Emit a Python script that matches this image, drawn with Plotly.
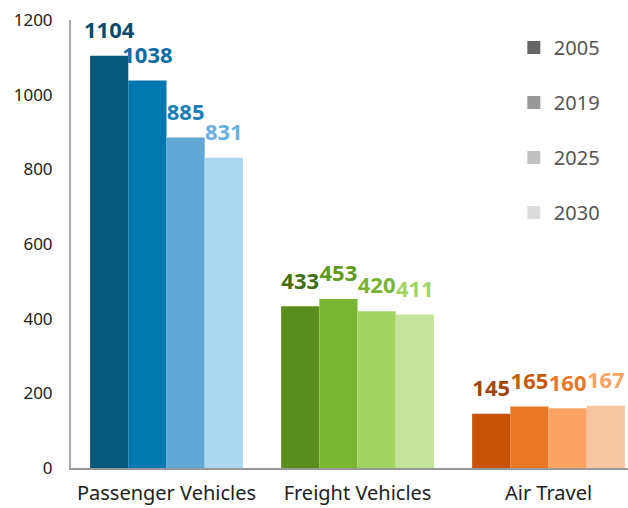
import plotly.graph_objects as go

categories = ["Passenger Vehicles", "Freight Vehicles", "Air Travel"]
years = ["2005", "2019", "2025", "2030"]
values = {
    "2005": [1104, 433, 145],
    "2019": [1038, 453, 165],
    "2025": [885, 420, 160],
    "2030": [831, 411, 167],
}
bar_colors = {
    "2005": ["#08587c", "#5a8e1c", "#c65306"],
    "2019": ["#0077ae", "#79b432", "#e87828"],
    "2025": ["#62a8d6", "#a2d462", "#fca464"],
    "2030": ["#acd7ef", "#c4e39b", "#f7c6a1"],
}
label_colors = {
    "2005": ["#0b4a6b", "#3f6e14", "#a0450a"],
    "2019": ["#0a6ea2", "#5f9a22", "#c55a10"],
    "2025": ["#1a7db5", "#79b432", "#e87828"],
    "2030": ["#6ab0e0", "#a2d462", "#fca464"],
}
legend_colors = {"2005": "#666666", "2019": "#999999", "2025": "#c0c0c0", "2030": "#dcdcdc"}
y_ticks = [0, 200, 400, 600, 800, 1000, 1200]

FONT = "Noto Sans, Open Sans, sans-serif"

fig = go.Figure()
for i, yr in enumerate(years):
    fig.add_trace(go.Bar(
        x=categories, y=values[yr], name=yr, offsetgroup=f"g{i}",
        marker=dict(color=bar_colors[yr], line=dict(width=0)),
        showlegend=False, hoverinfo="x+y",
    ))
for i, yr in enumerate(years):
    fig.add_trace(go.Scatter(
        x=categories, y=values[yr], offsetgroup=f"g{i}",
        mode="markers+text", text=[str(v) for v in values[yr]],
        textposition="top center",
        textfont=dict(family=FONT, size=22, color=label_colors[yr], weight="bold"),
        marker=dict(size=18, opacity=0),
        showlegend=False, hoverinfo="skip", cliponaxis=False,
    ))
for i, yr in enumerate(years):
    fig.add_trace(go.Scatter(
        x=[None], y=[None], offsetgroup=f"g{i}", name=yr, mode="markers",
        marker=dict(symbol="square", size=13, color=legend_colors[yr]),
        legendgroup=yr, showlegend=True,
    ))

fig.update_layout(
    width=628, height=508,
    margin=dict(l=71, r=0, t=20, b=40),
    paper_bgcolor="white", plot_bgcolor="white",
    barmode="group", bargap=0.2, bargroupgap=0,
    scattermode="group", scattergap=0.2,
    font=dict(family=FONT, color="#222222"),
    legend=dict(
        x=0.795, y=0.982, xanchor="left", yanchor="top",
        font=dict(size=20, color="#555555"),
        tracegroupgap=26, itemwidth=30,
        bgcolor="rgba(0,0,0,0)",
    ),
    xaxis=dict(
        range=[-0.5, 2.416], showline=True, linecolor="#999999", linewidth=2,
        showgrid=False, ticks="", tickfont=dict(size=20, color="#222222"),
        ticklabelstandoff=6, zeroline=False, automargin=False,
    ),
    yaxis=dict(
        range=[0, 1200], tickvals=y_ticks, showline=True, linecolor="#aaaaaa",
        linewidth=2, showgrid=False, ticks="", zeroline=False,
        tickfont=dict(size=17, color="#222222"), ticklabelstandoff=13,
        automargin=False,
    ),
)

fig.write_html(
    "out.html",
    config={"displayModeBar": False},
    post_script="document.body.style.margin='0';document.body.style.overflow='hidden';",
)
